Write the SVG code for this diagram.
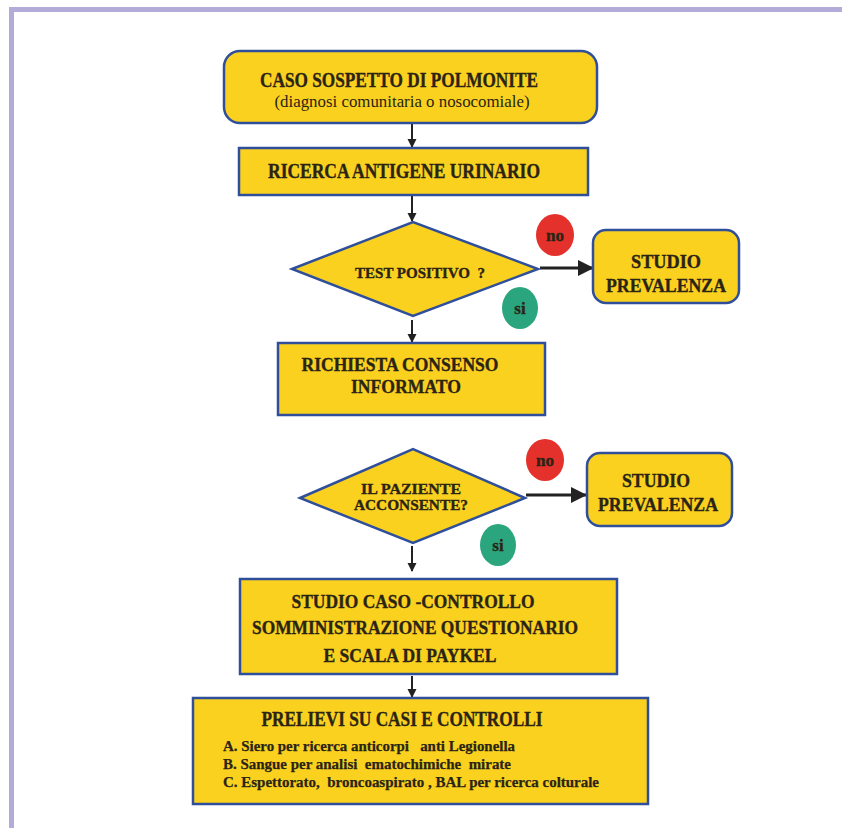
<svg xmlns="http://www.w3.org/2000/svg" width="842" height="828" viewBox="0 0 842 828">
<defs>
<marker id="ah" markerWidth="9" markerHeight="10" refX="8" refY="4.5" orient="auto" markerUnits="userSpaceOnUse">
<path d="M0,0 L9,4.5 L0,9 Z" fill="#222"/>
</marker>
<marker id="ahb" markerWidth="16" markerHeight="16" refX="15" refY="8" orient="auto" markerUnits="userSpaceOnUse">
<path d="M0,0 L16,8 L0,16 Z" fill="#222"/>
</marker>
</defs>
<style>
.box{fill:#fbd11f;stroke:#2f4f9a;stroke-width:2.5}
.t{font-family:"Liberation Serif","Times New Roman",serif;font-weight:bold;fill:#2a2416;stroke:#2a2416;stroke-width:0.35;text-anchor:middle}
.n{font-family:"Liberation Serif","Times New Roman",serif;fill:#2a2416;text-anchor:middle}
.l{font-family:"Liberation Serif","Times New Roman",serif;font-weight:bold;fill:#2a2416;stroke:#2a2416;stroke-width:0.25;white-space:pre}
.v{stroke:#222;stroke-width:2;fill:none}
.h{stroke:#222;stroke-width:3;fill:none}
.no{fill:#e5312b}
.si{fill:#2aa57e}
</style>
<rect x="0" y="0" width="842" height="828" fill="#ffffff"/>
<rect x="9" y="7" width="833" height="5" fill="#b3acd8"/>
<rect x="9" y="7" width="5" height="821" fill="#b3acd8"/>

<g id="connectors">
<line class="v" x1="412" y1="124" x2="412" y2="147" marker-end="url(#ah)"/>
<line class="v" x1="412" y1="196" x2="412" y2="221" marker-end="url(#ah)"/>
<line class="v" x1="412" y1="320" x2="412" y2="342" marker-end="url(#ah)"/>
<line class="v" x1="412" y1="546" x2="412" y2="571" marker-end="url(#ah)"/>
<line class="v" x1="412" y1="676" x2="412" y2="697" marker-end="url(#ah)"/>
<line class="h" x1="540" y1="268" x2="593" y2="268" marker-end="url(#ahb)"/>
<line class="h" x1="526" y1="495" x2="586" y2="495" marker-end="url(#ahb)"/>
</g>

<g id="n1">
<rect class="box" x="224" y="51" width="373" height="72" rx="16"/>
<text class="t" x="399" y="87" font-size="21" textLength="278" lengthAdjust="spacingAndGlyphs">CASO SOSPETTO DI POLMONITE</text>
<text class="n" x="402" y="107" font-size="17" textLength="255" lengthAdjust="spacingAndGlyphs">(diagnosi comunitaria o nosocomiale)</text>
</g>

<g id="n2">
<rect class="box" x="239" y="148" width="349" height="47"/>
<text class="t" x="404" y="178" font-size="20" textLength="272" lengthAdjust="spacingAndGlyphs">RICERCA ANTIGENE URINARIO</text>
</g>

<g id="d1">
<polygon class="box" points="292,269 413,222 538,269 413,316"/>
<text class="t" x="420" y="278" font-size="15" textLength="130" lengthAdjust="spacingAndGlyphs" xml:space="preserve">TEST POSITIVO  ?</text>
</g>

<g id="no1">
<ellipse class="no" cx="555" cy="235" rx="19" ry="21"/>
<text class="t" x="555" y="241" font-size="17">no</text>
</g>

<g id="si1">
<ellipse class="si" cx="520" cy="308" rx="18" ry="21"/>
<text class="t" x="520" y="314" font-size="17">si</text>
</g>

<g id="sp1">
<rect class="box" x="593" y="230" width="146" height="73" rx="13"/>
<text class="t" x="666" y="268" font-size="19" textLength="70" lengthAdjust="spacingAndGlyphs">STUDIO</text>
<text class="t" x="666" y="292" font-size="19" textLength="120" lengthAdjust="spacingAndGlyphs">PREVALENZA</text>
</g>

<g id="n3">
<rect class="box" x="278" y="343" width="267" height="72"/>
<text class="t" x="400" y="371" font-size="19" textLength="197" lengthAdjust="spacingAndGlyphs">RICHIESTA CONSENSO</text>
<text class="t" x="406" y="393" font-size="19" textLength="110" lengthAdjust="spacingAndGlyphs">INFORMATO</text>
</g>

<g id="d2">
<polygon class="box" points="300,498 413,449 525,498 413,543"/>
<text class="t" x="411" y="494" font-size="15" textLength="100" lengthAdjust="spacingAndGlyphs">IL PAZIENTE</text>
<text class="t" x="411" y="510" font-size="15" textLength="114" lengthAdjust="spacingAndGlyphs">ACCONSENTE?</text>
</g>

<g id="no2">
<ellipse class="no" cx="545" cy="460" rx="19" ry="21"/>
<text class="t" x="545" y="466" font-size="17">no</text>
</g>

<g id="si2">
<ellipse class="si" cx="498" cy="545" rx="18" ry="21"/>
<text class="t" x="498" y="551" font-size="17">si</text>
</g>

<g id="sp2">
<rect class="box" x="587" y="453" width="145" height="73" rx="13"/>
<text class="t" x="656" y="487" font-size="19" textLength="68" lengthAdjust="spacingAndGlyphs">STUDIO</text>
<text class="t" x="658" y="511" font-size="19" textLength="120" lengthAdjust="spacingAndGlyphs">PREVALENZA</text>
</g>

<g id="n4">
<rect class="box" x="240" y="579" width="377" height="95"/>
<text class="t" x="413" y="608" font-size="19" textLength="243" lengthAdjust="spacingAndGlyphs">STUDIO CASO -CONTROLLO</text>
<text class="t" x="415" y="634" font-size="19" textLength="326" lengthAdjust="spacingAndGlyphs">SOMMINISTRAZIONE QUESTIONARIO</text>
<text class="t" x="410" y="662" font-size="19" textLength="173" lengthAdjust="spacingAndGlyphs">E SCALA DI PAYKEL</text>
</g>

<g id="n5">
<rect class="box" x="193" y="698" width="455" height="106"/>
<text class="t" x="402" y="726" font-size="20" textLength="281" lengthAdjust="spacingAndGlyphs">PRELIEVI SU CASI E CONTROLLI</text>
<text class="l" x="223" y="751" font-size="15" textLength="292" lengthAdjust="spacingAndGlyphs" xml:space="preserve">A. Siero per ricerca anticorpi   anti Legionella</text>
<text class="l" x="223" y="769" font-size="15" textLength="288" lengthAdjust="spacingAndGlyphs" xml:space="preserve">B. Sangue per analisi  ematochimiche  mirate</text>
<text class="l" x="223" y="787" font-size="15" textLength="376" lengthAdjust="spacingAndGlyphs" xml:space="preserve">C. Espettorato,  broncoaspirato , BAL per ricerca colturale</text>
</g>
</svg>
